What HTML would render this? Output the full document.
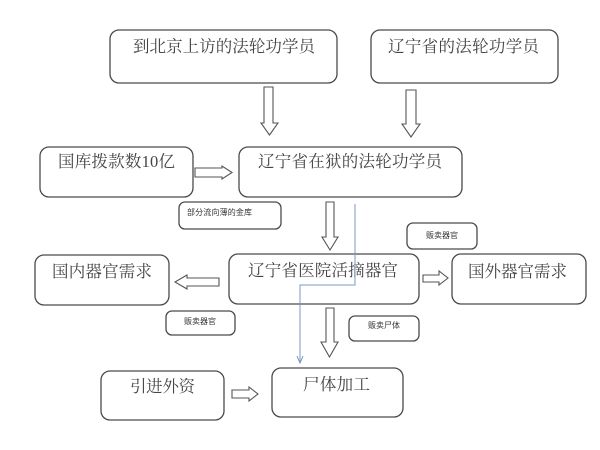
<!DOCTYPE html>
<html><head><meta charset="utf-8"><style>
html,body{margin:0;padding:0;background:#fff;}
svg{display:block;}
.b{fill:#fff;stroke:#4a4a4a;stroke-width:1.3;}
.a{fill:#fff;stroke:#555;stroke-width:1.1;stroke-linejoin:miter;}
.t{font-family:"Liberation Serif","Noto Serif CJK SC","Noto Serif CJK",serif;font-size:16.5px;fill:#444;}
.s{font-family:"Liberation Sans","Noto Sans CJK SC",sans-serif;font-size:8px;fill:#333;}
</style></head><body>
<svg width="600" height="450" viewBox="0 0 600 450" xmlns="http://www.w3.org/2000/svg">
<!-- main boxes -->
<rect class="b" x="110" y="30" width="227" height="53" rx="9"/>
<text class="t" x="133" y="52" textLength="182" lengthAdjust="spacing">到北京上访的法轮功学员</text>
<rect class="b" x="371" y="30" width="187" height="53" rx="9"/>
<text class="t" x="388" y="52" textLength="151" lengthAdjust="spacing">辽宁省的法轮功学员</text>
<rect class="b" x="40" y="147" width="153" height="50" rx="9"/>
<text class="t" x="58" y="167" textLength="117" lengthAdjust="spacing">国库拨款数10亿</text>
<rect class="b" x="239" y="147" width="223" height="50" rx="9"/>
<text class="t" x="258" y="167" textLength="184" lengthAdjust="spacing">辽宁省在狱的法轮功学员</text>
<rect class="b" x="229" y="254" width="190" height="50" rx="9"/>
<text class="t" x="248" y="276" textLength="150" lengthAdjust="spacing">辽宁省医院活摘器官</text>
<rect class="b" x="35" y="255" width="134" height="50" rx="9"/>
<text class="t" x="52" y="277" textLength="100" lengthAdjust="spacing">国内器官需求</text>
<rect class="b" x="452" y="254" width="134" height="50" rx="9"/>
<text class="t" x="468" y="277" textLength="99" lengthAdjust="spacing">国外器官需求</text>
<rect class="b" x="101" y="371" width="123" height="49" rx="9"/>
<text class="t" x="130" y="392" textLength="65" lengthAdjust="spacing">引进外资</text>
<rect class="b" x="272" y="368" width="131" height="49" rx="9"/>
<text class="t" x="303" y="390" textLength="67" lengthAdjust="spacing">尸体加工</text>
<!-- small label boxes -->
<rect class="b" x="179" y="202" width="102" height="27" rx="6"/>
<text class="s" x="187" y="215" textLength="65" lengthAdjust="spacing">部分流向薄的金库</text>
<rect class="b" x="166" y="311" width="69" height="24" rx="6"/>
<text class="s" x="184" y="324" textLength="32" lengthAdjust="spacing">贩卖器官</text>
<rect class="b" x="407" y="223" width="70" height="26" rx="6"/>
<text class="s" x="426" y="238" textLength="32" lengthAdjust="spacing">贩卖器官</text>
<rect class="b" x="349" y="316" width="70" height="25" rx="6"/>
<text class="s" x="368" y="328" textLength="32" lengthAdjust="spacing">贩卖尸体</text>
<!-- block arrows -->
<polygon class="a" points="264,87 273,87 273,123 278,123 269.5,135 261,123 264,123"/>
<polygon class="a" points="406,90 416,90 416,124 420,124 411,137 402,124 406,124"/>
<polygon class="a" points="326,202 334,202 334,237 338,237 330,250 322,237 326,237"/>
<polygon class="a" points="326,308 334,308 334,342 338,342 329.5,357 321,342 326,342"/>
<polygon class="a" points="195,168 222,168 222,166 232,172.5 222,179 222,177 195,177"/>
<polygon class="a" points="219,278 187,278 187,275 175,282 187,289 187,286 219,286"/>
<polygon class="a" points="423,275 439,275 439,271 448,278 439,285 439,282 423,282"/>
<polygon class="a" points="232,390 249,390 249,387 258,394 249,401 249,398 232,398"/>
<!-- blue connector -->
<polyline points="355,204 355,285 300,285 300,362" fill="none" stroke="#7b98c4" stroke-width="1"/>
<polyline points="297,356 300,363 303,356" fill="none" stroke="#7b98c4" stroke-width="1"/>
</svg>
</body></html>
